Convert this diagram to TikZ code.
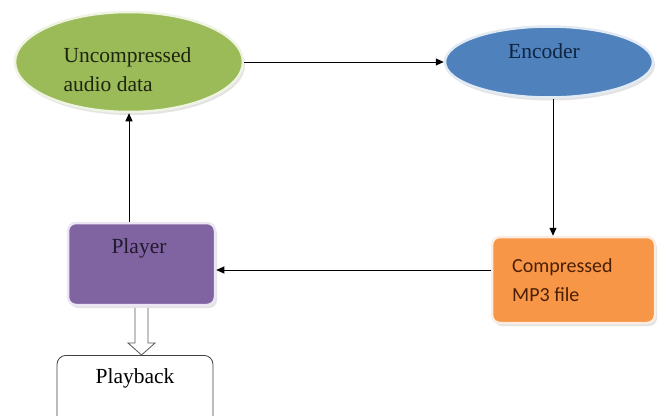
\documentclass[tikz,border=0pt]{standalone}
\usepackage{fontspec}
\setmainfont{Liberation Serif}
\newfontfamily\calibrifont{Carlito}
\usetikzlibrary{arrows.meta,shadows,calc,shapes.geometric}
\definecolor{gfill}{HTML}{9BBB59}
\definecolor{bfill}{HTML}{4F81BD}
\definecolor{pfill}{HTML}{8064A2}
\definecolor{ofill}{HTML}{F79646}
\definecolor{gline}{HTML}{EEF3E2}
\definecolor{bline}{HTML}{E2EAF4}
\definecolor{pline}{HTML}{ECE6F2}
\definecolor{oline}{HTML}{FDEDE0}
\definecolor{gtext}{HTML}{1D2410}
\definecolor{btext}{HTML}{0F243E}
\definecolor{ptext}{HTML}{221A2E}
\definecolor{otext}{HTML}{4A1F05}
\tikzset{
  shapebox/.style={inner sep=0pt, line width=2.5pt,
    drop shadow={opacity=0.22, shadow xshift=2pt, shadow yshift=-3pt}},
  ellbox/.style={shapebox, ellipse},
  rbox/.style={shapebox, rectangle, rounded corners=8pt},
  serif/.style={inner sep=0pt, font=\fontsize{21.5}{29}\selectfont, align=left},
  sans/.style={inner sep=0pt, font=\calibrifont\fontsize{20}{29}\selectfont, align=left},
  conn/.style={line width=0.9pt, -{Triangle[length=8pt,width=7pt]}},
}
\begin{document}
\begin{tikzpicture}[x=1pt,y=-1pt]
\clip (0,0) rectangle (658,415);
\fill[white] (0,0) rectangle (658,415);
% shapes
\node[ellbox, fill=gfill, draw=gline, minimum width=228pt, minimum height=100pt] (green) at (129,62) {};
\node[ellbox, fill=bfill, draw=bline, minimum width=208pt, minimum height=71pt] (blue) at (549,62) {};
\node[rbox, fill=ofill, draw=oline, minimum width=163pt, minimum height=86pt] (orange) at (573.5,280) {};
\node[rbox, fill=pfill, draw=pline, minimum width=147pt, minimum height=82pt] (player) at (141.5,264) {};
\node[rectangle, rounded corners=9pt, draw=black!75, line width=0.8pt, fill=white,
      minimum width=156pt, minimum height=90pt, anchor=north, inner sep=0pt] (playback) at (135,355) {};
% texts
\node[serif, text=gtext] (greentext) at (127.5,69.5) {Uncompressed\\audio data};
\node[serif, text=btext] (bluetext) at (544,51) {Encoder};
\node[sans, text=otext, anchor=west] (orangetext) at (512,280.5) {Compressed\\MP3 file};
\node[serif, text=ptext] (playertext) at (139,248) {Player};
\node[serif, text=black] (playbacktext) at (135,378) {Playback};
% connectors
\coordinate (bs) at (553,0);
\coordinate (lr) at (0,270);
\coordinate (up) at (129,0);
\draw[conn] (green.east) -- (blue.west);
\draw[conn] (blue.south -| bs) -- (orange.north -| bs);
\draw[conn] (orange.west |- lr) -- (player.east |- lr);
\draw[conn] (player.north -| up) -- (green.south -| up);
% hollow block arrow
\coordinate (ha) at (player.south);
\coordinate (hb) at (player.south |- playback.north);
\draw[black!65, line width=0.8pt, fill=white, line join=miter]
  ($(ha)+(-6.5,1.5)$) -- ($(hb)+(-6.5,-12)$) -- ($(hb)+(-13.5,-12)$) -- (hb)
  -- ($(hb)+(13.5,-12)$) -- ($(hb)+(6.5,-12)$) -- ($(ha)+(6.5,1.5)$);
\end{tikzpicture}
\end{document}
